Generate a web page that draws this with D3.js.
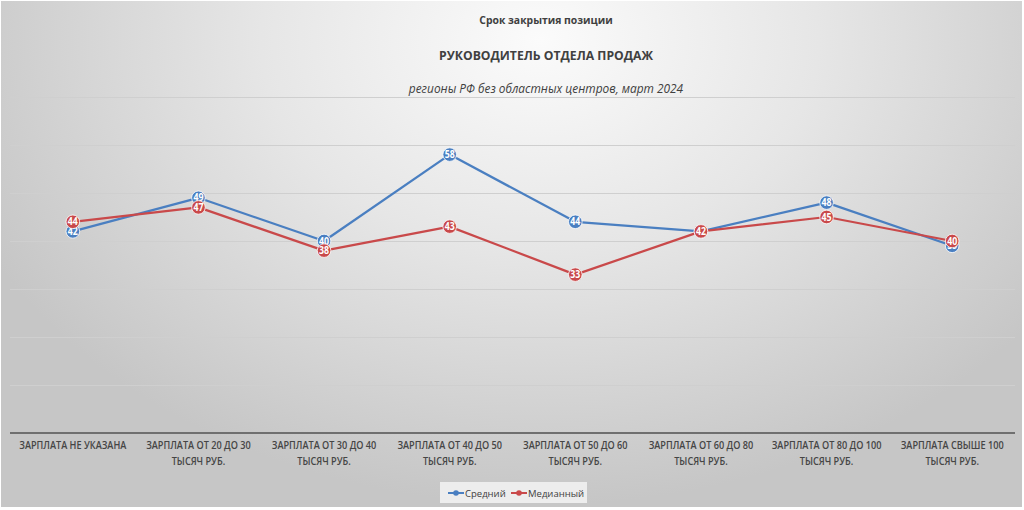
<!DOCTYPE html>
<html>
<head>
<meta charset="utf-8">
<script src="https://cdn.jsdelivr.net/npm/d3@7"></script>
<style>
  html, body { margin: 0; padding: 0; background: #ffffff; }
  svg { display: block; font-family: "Open Sans", "Noto Sans", sans-serif; }
</style>
</head>
<body>
<svg id="chart" width="1024" height="510"></svg>
<script>
const categories = [
  ["ЗАРПЛАТА НЕ УКАЗАНА"],
  ["ЗАРПЛАТА ОТ 20 ДО 30", "ТЫСЯЧ РУБ."],
  ["ЗАРПЛАТА ОТ 30 ДО 40", "ТЫСЯЧ РУБ."],
  ["ЗАРПЛАТА ОТ 40 ДО 50", "ТЫСЯЧ РУБ."],
  ["ЗАРПЛАТА ОТ 50 ДО 60", "ТЫСЯЧ РУБ."],
  ["ЗАРПЛАТА ОТ 60 ДО 80", "ТЫСЯЧ РУБ."],
  ["ЗАРПЛАТА ОТ 80 ДО 100", "ТЫСЯЧ РУБ."],
  ["ЗАРПЛАТА СВЫШЕ 100", "ТЫСЯЧ РУБ."]
];
const seriesNames = ["Средний", "Медианный"];
const avgValues = [42, 49, 40, 58, 44, 42, 48, 39];
const medValues = [44, 47, 38, 43, 33, 42, 45, 40];
const yTicks = [0, 10, 20, 30, 40, 50, 60, 70];
const titleTop = "Срок закрытия позиции";
const titleMain = "РУКОВОДИТЕЛЬ ОТДЕЛА ПРОДАЖ";
const subtitle = "регионы РФ без областных центров, март 2024";

const colors = ["#4a7fc1", "#c9494a"];
const svg = d3.select("#chart");

// background
const defs = svg.append("defs");
const grad = defs.append("radialGradient").attr("id", "bg")
  .attr("gradientUnits", "userSpaceOnUse")
  .attr("cx", 540).attr("cy", 40).attr("r", 620)
  .attr("gradientTransform", "translate(540,40) scale(1,0.75) translate(-540,-40)");
grad.append("stop").attr("offset", "0%").attr("stop-color", "#fbfbfb");
grad.append("stop").attr("offset", "45%").attr("stop-color", "#e6e6e6");
grad.append("stop").attr("offset", "100%").attr("stop-color", "#c6c6c6");
svg.append("rect").attr("x", 1).attr("y", 1).attr("width", 1021).attr("height", 506)
  .attr("fill", "url(#bg)");

const x = d3.scaleBand().domain(d3.range(categories.length)).range([10, 1015]);
const y = d3.scaleLinear().domain([0, 70]).range([433, 97]);

// gridlines
svg.append("g").selectAll("line").data(yTicks.filter(t => t > 0)).join("line")
  .attr("x1", 10).attr("x2", 1015)
  .attr("y1", d => Math.round(y(d)) + 0.5).attr("y2", d => Math.round(y(d)) + 0.5)
  .attr("stroke", "#cfcfcf").attr("stroke-width", 1);

// x axis line
svg.append("line").attr("x1", 10).attr("x2", 1015)
  .attr("y1", y(0)).attr("y2", y(0))
  .attr("stroke", "#6f6f6f").attr("stroke-width", 2);

// x labels (condensed to mimic a narrow font)
const lab = svg.append("g").selectAll("text").data(categories).join("text")
  .attr("text-anchor", "middle")
  .attr("font-size", 10.4)
  .attr("fill", "#454545")
  .attr("font-weight", 600)
  .attr("transform", (d, i) => `translate(${x(i) + x.bandwidth() / 2},0)`);
lab.selectAll("tspan").data(d => d).join("tspan")
  .attr("x", 0).attr("y", (d, j) => 449 + j * 16)
  .text(d => d);
lab.selectAll("tspan").each(function () {
  const w = this.getComputedTextLength();
  d3.select(this).attr("textLength", w * 0.88).attr("lengthAdjust", "spacingAndGlyphs");
});

// titles
svg.append("text").attr("x", 546).attr("y", 24).attr("text-anchor", "middle")
  .attr("font-size", 10.4).attr("font-weight", 700).attr("fill", "#404040").text(titleTop);
svg.append("text").attr("x", 546).attr("y", 60).attr("text-anchor", "middle")
  .attr("font-size", 12.2).attr("font-weight", 700).attr("fill", "#404040").text(titleMain);
svg.append("text").attr("x", 546).attr("y", 93).attr("text-anchor", "middle")
  .attr("font-size", 11.9).attr("font-style", "italic").attr("fill", "#404040").text(subtitle);

// lines
const allSeries = [avgValues, medValues];
const line = d3.line().x((d, i) => x(i) + x.bandwidth() / 2).y(d => y(d));
allSeries.forEach((vals, s) => {
  svg.append("path").datum(vals).attr("d", line)
    .attr("fill", "none").attr("stroke", colors[s]).attr("stroke-width", 2.25)
    .attr("stroke-linejoin", "round");
});
allSeries.forEach((vals, s) => {
  const g = svg.append("g");
  g.selectAll("circle").data(vals).join("circle")
    .attr("cx", (d, i) => x(i) + x.bandwidth() / 2).attr("cy", d => y(d))
    .attr("r", 6.8).attr("fill", colors[s]).attr("stroke", "#ffffff").attr("stroke-width", 0.8);
  g.selectAll("text").data(vals).join("text")
    .attr("x", (d, i) => x(i) + x.bandwidth() / 2).attr("y", d => y(d) + 3.6)
    .attr("text-anchor", "middle").attr("font-size", 10).attr("font-weight", 700)
    .attr("fill", "#ffffff").text(d => d)
    .each(function () {
      const w = this.getComputedTextLength();
      d3.select(this).attr("textLength", w * 0.88).attr("lengthAdjust", "spacingAndGlyphs");
    });
});

// legend
const lg = svg.append("g");
lg.append("rect").attr("x", 440).attr("y", 482).attr("width", 147).attr("height", 21)
  .attr("fill", "#ededed");
const legendItems = [{ x: 448, name: seriesNames[0], c: colors[0] }, { x: 511, name: seriesNames[1], c: colors[1] }];
legendItems.forEach(it => {
  lg.append("line").attr("x1", it.x).attr("x2", it.x + 16).attr("y1", 493).attr("y2", 493)
    .attr("stroke", it.c).attr("stroke-width", 2);
  lg.append("circle").attr("cx", it.x + 8).attr("cy", 493).attr("r", 2.8).attr("fill", it.c);
  lg.append("text").attr("x", it.x + 17).attr("y", 496.5).attr("font-size", 9.5)
    .attr("fill", "#404040").text(it.name);
});
</script>
</body>
</html>
